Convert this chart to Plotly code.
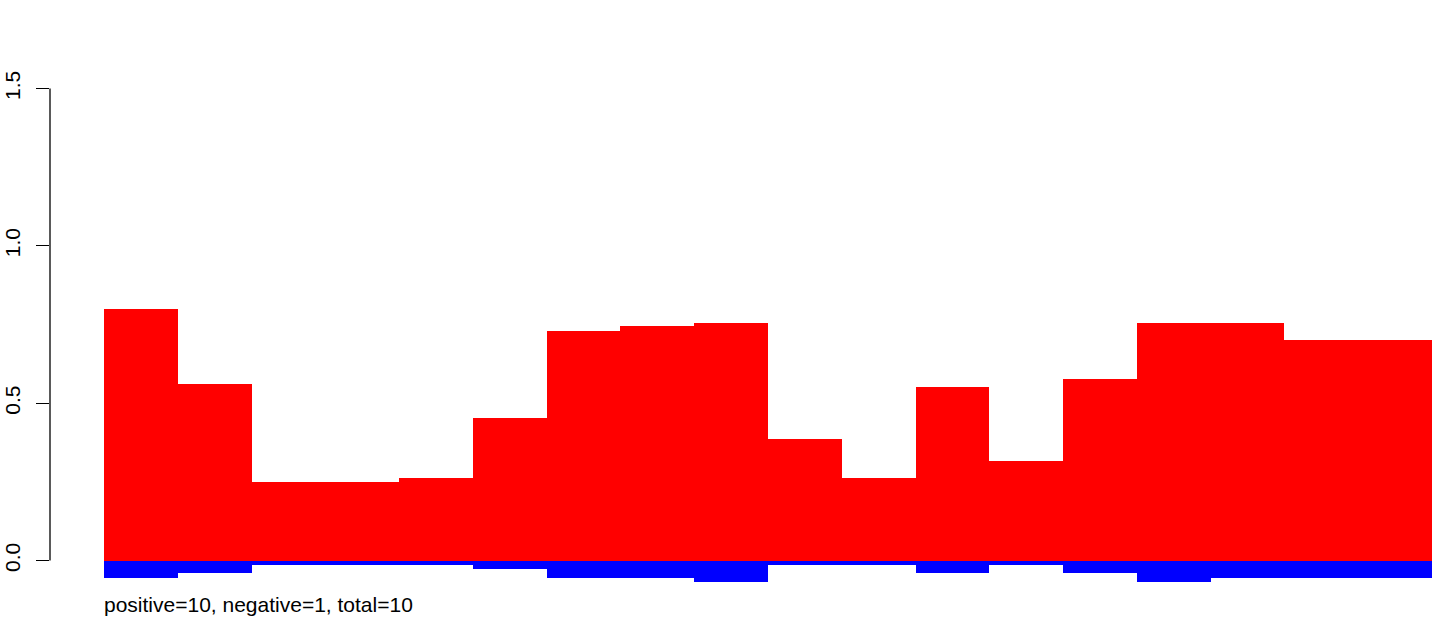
import plotly.graph_objects as go

# Data
positions = list(range(1, 19))
positive = [0.798, 0.5625, 0.248, 0.248, 0.261, 0.454, 0.728, 0.744, 0.756,
            0.385, 0.261, 0.550, 0.315, 0.578, 0.756, 0.756, 0.702, 0.702]
negative = [-0.056, -0.040, -0.015, -0.015, -0.015, -0.028, -0.056, -0.056, -0.069,
            -0.015, -0.015, -0.040, -0.015, -0.040, -0.069, -0.056, -0.056, -0.056]
y_ticks = [0.0, 0.5, 1.0, 1.5]
y_tick_labels = ["0.0", "0.5", "1.0", "1.5"]
caption = "positive=10, negative=1, total=10"

centers = [p - 0.5 for p in positions]

fig = go.Figure()
fig.add_trace(go.Bar(x=centers, y=positive, width=1, marker=dict(color="#FF0000", line=dict(width=0)),
                     showlegend=False, hoverinfo="skip"))
fig.add_trace(go.Bar(x=centers, y=negative, width=1, marker=dict(color="#0000FF", line=dict(width=0)),
                     showlegend=False, hoverinfo="skip"))

font = dict(family="Liberation Sans, Arial, sans-serif", size=21, color="black")

fig.update_layout(
    width=1444, height=624,
    paper_bgcolor="white", plot_bgcolor="white",
    margin=dict(l=50, r=4, t=57, b=32, pad=0, autoexpand=False),
    barmode="relative", bargap=0,
    font=font,
    xaxis=dict(range=[-0.732, 18.108], visible=False, showgrid=False, zeroline=False,
               automargin=False),
    yaxis=dict(range=[-0.1, 1.6], tickvals=y_ticks, ticktext=y_tick_labels,
               tickangle=-90, ticks="outside", ticklen=13, tickwidth=1.3, tickcolor="black",
               showgrid=False, zeroline=False, showline=False, ticklabelstandoff=8,
               tickfont=font, automargin=False),
    shapes=[dict(type="line", xref="paper", yref="y", x0=0, x1=0, y0=y_ticks[0], y1=y_ticks[-1],
                 line=dict(color="black", width=1.3))],
    annotations=[dict(text=caption, xref="x", yref="paper", x=0, y=-0.024, xshift=-2,
                      xanchor="left", yanchor="middle", showarrow=False, font=font)],
)

fig.write_html("out.html", config={"displayModeBar": False},
               post_script="document.body.style.margin='0';")
